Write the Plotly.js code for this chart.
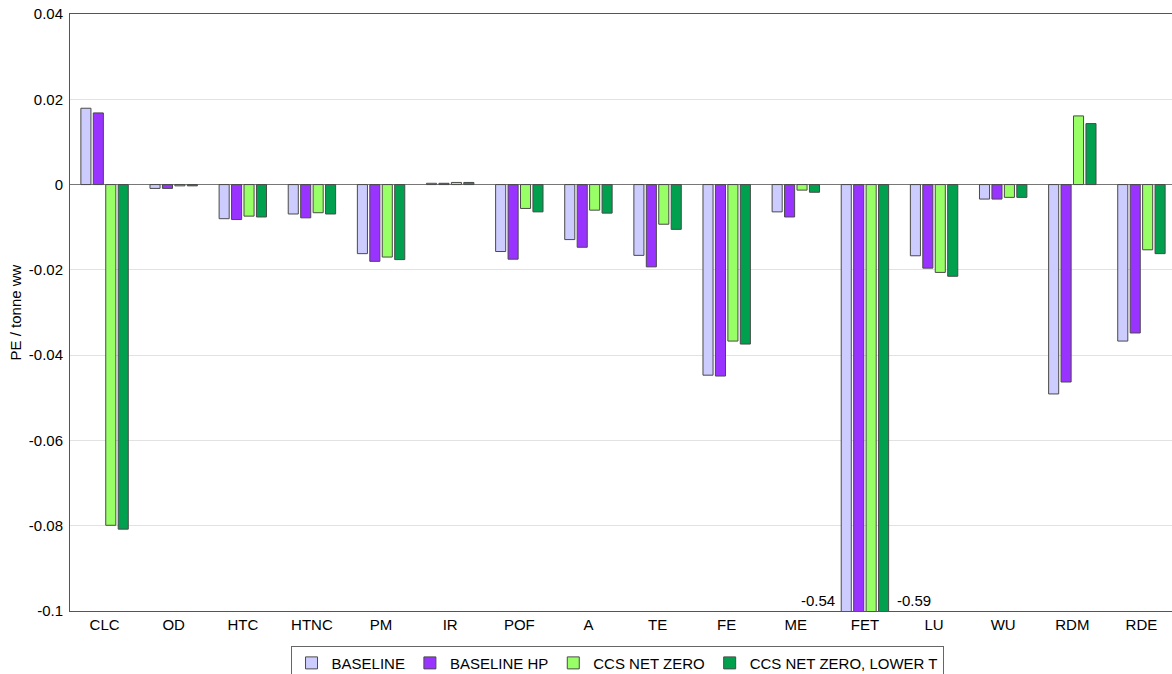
<!DOCTYPE html>
<html>
<head>
<meta charset="utf-8">
<script src="https://cdn.plot.ly/plotly-3.0.1.min.js"></script>
<style>html,body{margin:0;padding:0;background:#fff;overflow:hidden}#chart{width:1176px;height:674px}</style>
</head>
<body>
<div id="chart"></div>
<script>
const categories = ["CLC","OD","HTC","HTNC","PM","IR","POF","A","TE","FE","ME","FET","LU","WU","RDM","RDE"];
const baseline      = [0.0179,-0.0009,-0.0080,-0.0069,-0.0162,0.0003,-0.0157,-0.0129,-0.0166,-0.0447,-0.0064,-0.54,-0.0167,-0.0034,-0.0491,-0.0367];
const baselineHP    = [0.0168,-0.0009,-0.0082,-0.0078,-0.0180,0.0003,-0.0175,-0.0147,-0.0193,-0.0449,-0.0076,-0.55,-0.0196,-0.0034,-0.0463,-0.0348];
const ccsNetZero    = [-0.0799,-0.0003,-0.0074,-0.0066,-0.0170,0.0005,-0.0056,-0.0060,-0.0093,-0.0367,-0.0013,-0.58,-0.0206,-0.0030,0.0161,-0.0153];
const ccsNetZeroLT  = [-0.0808,-0.0003,-0.0076,-0.0069,-0.0176,0.0005,-0.0064,-0.0067,-0.0105,-0.0374,-0.0018,-0.59,-0.0215,-0.0030,0.0143,-0.0162];
const seriesNames = ["BASELINE","BASELINE HP","CCS NET ZERO","CCS NET ZERO, LOWER T"];
const seriesColors = ["#CCCCFF","#9933FF","#99FF66","#00A04E"];
const tickVals = [0.04,0.02,0,-0.02,-0.04,-0.06,-0.08,-0.1];
const tickText = ["0.04","0.02","0","-0.02","-0.04","-0.06","-0.08","-0.1"];

const allSeries = [baseline, baselineHP, ccsNetZero, ccsNetZeroLT];
const traces = allSeries.map((vals,i)=>({
  type:'bar', x:categories, y:vals, name:seriesNames[i],
  marker:{color:seriesColors[i], line:{color:'#4a4a4a', width:1}},
  hoverinfo:'x+y+name'
}));

const fetIdx = categories.indexOf("FET");
const layout = {
  width:1176, height:674,
  margin:{l:70, r:0, t:14, b:63, autoexpand:false},
  paper_bgcolor:'#ffffff', plot_bgcolor:'#ffffff',
  font:{family:'"Liberation Sans", Arial, sans-serif', size:15, color:'#000'},
  barmode:'group', bargap:0.28, bargroupgap:0.19,
  showlegend:true,
  legend:{orientation:'h', x:0.4946, xanchor:'center', y:-0.058, yanchor:'top',
    bordercolor:'#666666', borderwidth:1, font:{size:15}, traceorder:'normal',
    itemwidth:30, tracegroupgap:0},
  xaxis:{type:'category', showline:true, linecolor:'#555555', linewidth:1, mirror:true,
    ticks:'', showgrid:false, tickfont:{size:15}, fixedrange:true},
  yaxis:{range:[-0.1,0.04], tickvals:tickVals, ticktext:tickText,
    showline:true, linecolor:'#555555', linewidth:1, ticks:'',
    showgrid:true, gridcolor:'#e2e2e2', gridwidth:1,
    zeroline:true, zerolinecolor:'#777777', zerolinewidth:1,
    tickfont:{size:15}, ticklabelstandoff:3,
    title:{text:'PE / tonne ww', font:{size:15}, standoff:3}},
  annotations:[
    {x:categories[fetIdx], y:-0.1, xref:'x', yref:'y', text:String(baseline[fetIdx]),
     showarrow:false, xanchor:'right', yanchor:'bottom', xshift:-28, yshift:0, font:{size:15}},
    {x:categories[fetIdx], y:-0.1, xref:'x', yref:'y', text:String(ccsNetZeroLT[fetIdx]),
     showarrow:false, xanchor:'left', yanchor:'bottom', xshift:30, yshift:0, font:{size:15}}
  ]
};
Plotly.newPlot('chart', traces, layout, {displayModeBar:false, staticPlot:true});
</script>
</body>
</html>
